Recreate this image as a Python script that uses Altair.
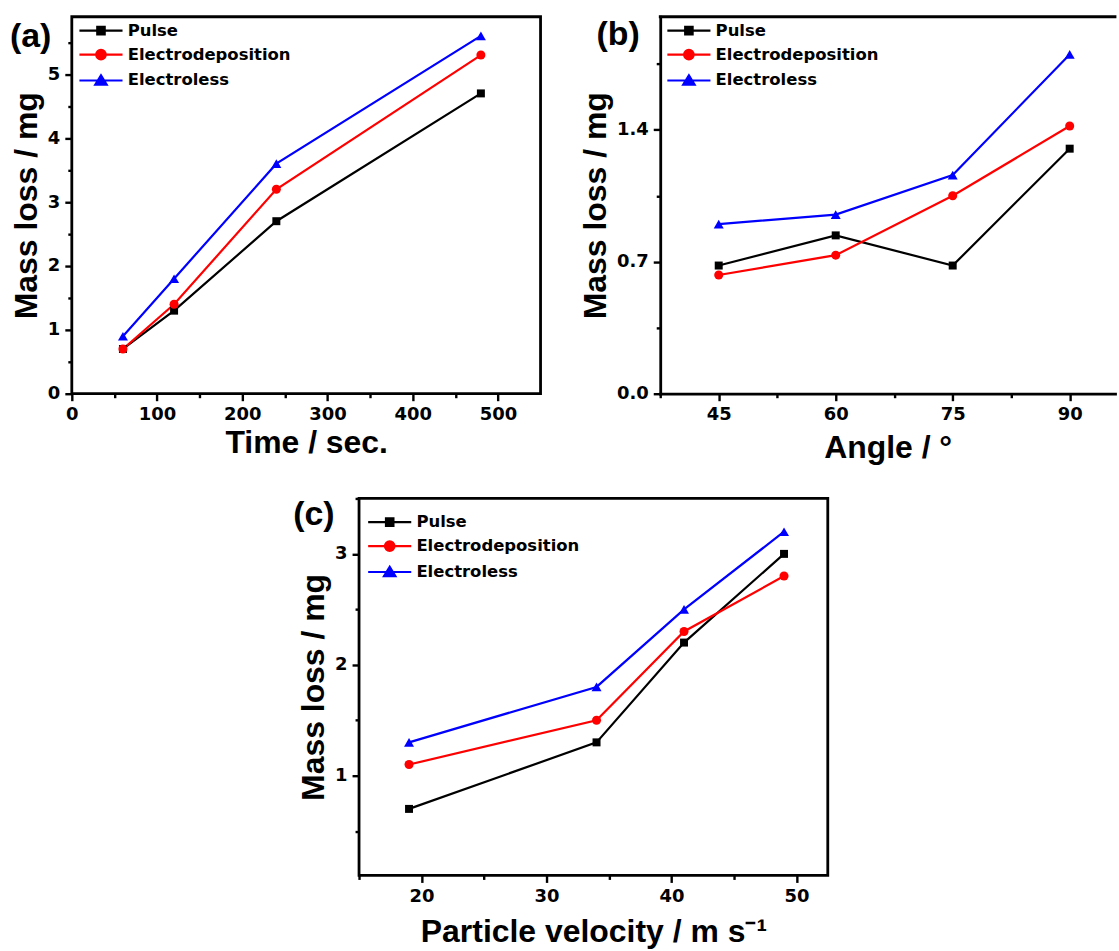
import altair as alt
import pandas as pd

series = ["Pulse", "Electrodeposition", "Electroless"]
series_colors = ["#000000", "#ff0000", "#0000ff"]
series_shapes = ["square", "circle", "triangle-up"]
series_sizes = [64, 100, 115]

time_sec = [60, 120, 240, 480]
time_pulse = [0.7, 1.3, 2.7, 4.7]
time_electrodeposition = [0.7, 1.4, 3.2, 5.3]
time_electroless = [0.9, 1.8, 3.6, 5.6]

angle_deg = [45, 60, 75, 90]
angle_pulse = [0.68, 0.84, 0.68, 1.30]
angle_electrodeposition = [0.63, 0.735, 1.05, 1.42]
angle_electroless = [0.90, 0.95, 1.16, 1.80]

velocity = [19, 34, 41, 49]
velocity_pulse = [0.7, 1.3, 2.2, 3.0]
velocity_electrodeposition = [1.1, 1.5, 2.3, 2.8]
velocity_electroless = [1.3, 1.8, 2.5, 3.2]

# axis tick positions (major + minor)
a_x_ticks = [0, 50, 100, 150, 200, 250, 300, 350, 400, 450, 500]
a_y_ticks = [0, 0.5, 1, 1.5, 2, 2.5, 3, 3.5, 4, 4.5, 5, 5.5]
b_x_ticks = [37.5, 45, 52.5, 60, 67.5, 75, 82.5, 90]
b_y_ticks = [0, 0.35, 0.7, 1.05, 1.4, 1.75]
c_x_ticks = [15, 20, 25, 30, 35, 40, 45, 50]
c_y_ticks = [0.5, 1, 1.5, 2, 2.5, 3, 3.5]

W, H = 470, 378
WB = 456  # panel (b) runs off the right edge of the figure
TITLE_FONT = "Liberation Sans"
TICK_FONT = "DejaVu Sans"

# legend symbols: a line segment with the marker in its middle
leg_paths = [
    "M-3.6,0H3.6M-0.62,-0.62H0.62V0.62H-0.62Z",
    "M-3.6,0H3.6M-0.8,0A0.8,0.8,0,1,1,0.8,0A0.8,0.8,0,1,1,-0.8,0Z",
    "M-3.6,0H3.6M0,-0.85L0.95,0.7H-0.95Z",
]
shape_expr = "datum.value == '%s' ? '%s' : datum.value == '%s' ? '%s' : '%s'" % (
    series[0], leg_paths[0], series[1], leg_paths[1], leg_paths[2])
color_expr = "datum.value == '%s' ? '%s' : datum.value == '%s' ? '%s' : '%s'" % (
    series[0], series_colors[0], series[1], series_colors[1], series_colors[2])


def long_table(xs, ys_by_series):
    rows = []
    for name, ys in zip(series, ys_by_series):
        for xv, yv in zip(xs, ys):
            rows.append({"x": xv, "y": yv, "series": name, "marker": name})
    return pd.DataFrame(rows)


def panel(df, letter, letter_xy, x_title, y_title, x_dom, y_dom, x_vals, y_vals,
          x_minor, y_minor, y_fmt, x_tpad, legend_xy, width=W, open_right=False):
    legend = alt.Legend(
        orient="none", legendX=legend_xy[0], legendY=legend_xy[1], title=None,
        symbolType={"expr": shape_expr},
        symbolFillColor={"expr": color_expr},
        symbolStrokeColor={"expr": color_expr},
        symbolStrokeWidth=2.2, symbolSize=144, symbolOpacity=1,
        labelFont=TICK_FONT, labelFontSize=16.5, labelFontWeight="bold",
        labelColor="black", labelOffset=18.5, labelLimit=400, rowPadding=6, padding=0,
    )
    dom = {}
    if open_right:
        dom = dict(domain=True, domainWidth=2.8, domainColor="black", domainCap="square")
    color = alt.Color("series:N", scale=alt.Scale(domain=series, range=series_colors),
                      legend=legend)
    x = alt.X("x:Q", scale=alt.Scale(domain=x_dom, nice=False, zero=False),
              axis=alt.Axis(values=x_vals, tickCount=100, tickMinStep=0.01,
                            title=x_title, titlePadding=x_tpad,
                            tickSize={"condition": {"test": x_minor, "value": 4}, "value": 7},
                            labelExpr="(%s) ? '' : format(datum.value, 'd')" % x_minor, **dom))
    y = alt.Y("y:Q", scale=alt.Scale(domain=y_dom, nice=False, zero=False),
              axis=alt.Axis(values=y_vals, tickCount=100, tickMinStep=0.01,
                            title=y_title, titlePadding=4,
                            tickSize={"condition": {"test": y_minor, "value": 4}, "value": 7},
                            labelExpr="(%s) ? '' : format(datum.value, '%s')" % (y_minor, y_fmt),
                            **dom))
    base = alt.Chart(df)
    lines = base.mark_line(strokeWidth=2.2).encode(x=x, y=y, color=color)
    points = base.mark_point(filled=True, opacity=1).encode(
        x=x, y=y,
        color=alt.Color("marker:N", scale=alt.Scale(domain=series, range=series_colors), legend=None),
        shape=alt.Shape("marker:N", scale=alt.Scale(domain=series, range=series_shapes), legend=None),
        size=alt.Size("marker:N", scale=alt.Scale(domain=series, range=series_sizes), legend=None),
    )
    tag = alt.Chart(pd.DataFrame({"t": [letter]})).mark_text(
        font=TITLE_FONT, fontSize=34, fontWeight="bold", align="left",
        baseline="alphabetic", color="black"
    ).encode(text="t:N", x=alt.value(letter_xy[0]), y=alt.value(letter_xy[1]))
    layers = [lines, points, tag]
    props = dict(width=width, height=H)
    if open_right:
        top_edge = alt.Chart(pd.DataFrame({"t": [0]})).mark_rule(
            color="black", strokeWidth=2.8, strokeCap="square"
        ).encode(x=alt.value(0), x2=alt.value(width), y=alt.value(0))
        layers.append(top_edge)
        props["view"] = alt.ViewBackground(stroke="transparent")
    return alt.layer(*layers).resolve_scale(color="independent").properties(**props)


pa = panel(long_table(time_sec, [time_pulse, time_electrodeposition, time_electroless]),
           "(a)", (-62, 30), "Time / sec.", "Mass loss / mg", [0, 550], [0, 5.9],
           a_x_ticks, a_y_ticks, "datum.value % 100 != 0", "datum.value % 1 != 0", "d", 4,
           (21, 5.7))
pb = panel(long_table(angle_deg, [angle_pulse, angle_electrodeposition, angle_electroless]),
           "(b)", (-64, 28), "Angle / °", "Mass loss / mg", [37.5, 37.5 + WB / 7.82], [0, 2.0],
           b_x_ticks, b_y_ticks, "datum.value % 15 != 0",
           "datum.value == 0.35 || datum.value == 1.05 || datum.value == 1.75", ".1f", 9,
           (20.5, 5.7), width=WB, open_right=True)
pc = panel(long_table(velocity, [velocity_pulse, velocity_electrodeposition, velocity_electroless]),
           "(c)", (-66, 27), "Particle velocity / m s⁻¹", "Mass loss / mg", [15, 52.5], [0.1, 3.5],
           c_x_ticks, c_y_ticks, "datum.value % 10 != 0", "datum.value % 1 != 0", "d", 11,
           (22.5, 15.5))

spacer = alt.Chart(pd.DataFrame({"v": [0]})).mark_point(opacity=0).encode(
    x=alt.value(0), y=alt.value(0)
).properties(width=288, height=10, view=alt.ViewBackground(stroke="transparent"))

top = alt.hconcat(pa, pb, spacing=120, bounds="flush").resolve_scale(
    color="independent", shape="independent", size="independent"
).resolve_legend(color="independent")
bottom = alt.hconcat(spacer, pc, spacing=0, bounds="flush").resolve_scale(
    color="independent", shape="independent", size="independent"
).resolve_legend(color="independent")

chart = alt.vconcat(top, bottom, spacing=22).resolve_scale(
    color="independent", shape="independent", size="independent"
).resolve_legend(color="independent").properties(
    padding={"left": 8, "top": 11.5, "right": 0, "bottom": 0}
).configure_view(
    stroke="black", strokeWidth=2.8
).configure_axis(
    domain=False, grid=False, tickColor="black", tickWidth=2.4,
    labelFont=TICK_FONT, labelFontSize=18, labelFontWeight="bold", labelColor="black",
    labelPadding=5, labelFlush=False, labelOverlap=False,
    titleFont=TITLE_FONT, titleFontSize=32, titleFontWeight="bold", titleColor="black",
)

chart.save("out.html", embed_options={"renderer": "svg", "actions": False})
